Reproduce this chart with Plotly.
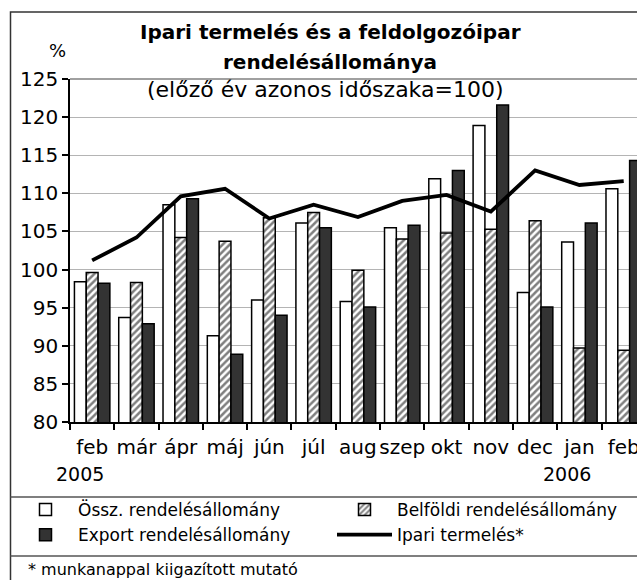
import plotly.graph_objects as go

months = ["feb", "már", "ápr", "máj", "jún", "júl", "aug", "szep", "okt", "nov", "dec", "jan", "feb"]
years = ["2005", "", "", "", "", "", "", "", "", "", "", "2006", ""]
ossz = [98.4, 93.7, 108.5, 91.3, 96.0, 106.1, 95.8, 105.5, 111.9, 118.9, 97.0, 103.6, 110.6]
belfoldi = [99.6, 98.3, 104.2, 103.7, 106.8, 107.5, 99.9, 104.0, 104.8, 105.3, 106.4, 89.7, 89.4]
export = [98.2, 92.9, 109.3, 88.9, 94.0, 105.5, 95.1, 105.8, 113.0, 121.6, 95.1, 106.1, 114.3]
ipari = [101.2, 104.2, 109.6, 110.6, 106.7, 108.5, 106.9, 109.0, 109.8, 107.6, 113.0, 111.1, 111.6]

W, H = 637, 580
L, R, T, B = 70, 0, 79, 158
pw, ph = W - L - R, H - T - B

def px(xp):
    return (xp - L) / pw

def py(yp):
    return (H - B - yp) / ph

x = list(range(len(months)))
FONT = "DejaVu Sans"

fig = go.Figure()
fig.add_bar(x=x, y=ossz, name="Össz. rendelésállomány", legend="legend",
            marker=dict(color="white", line=dict(color="black", width=1.5)))
fig.add_bar(x=x, y=belfoldi, name="Belföldi rendelésállomány", legend="legend2",
            marker=dict(color="white", line=dict(color="black", width=1.5),
                        pattern=dict(shape="/", fgcolor="black", bgcolor="white", size=5, solidity=0.5)))
fig.add_bar(x=x, y=export, name="Export rendelésállomány", legend="legend",
            marker=dict(color="#333333", line=dict(color="black", width=1.5)))
fig.add_scatter(x=x, y=ipari, name="Ipari termelés*", mode="lines", legend="legend2",
                line=dict(color="black", width=3.8))

shapes = []
shapes.append(dict(type="rect", xref="paper", yref="paper", x0=px(10.5), x1=px(700), y0=py(700), y1=py(12),
                   line=dict(color="#333333", width=1.5)))
for yy in (497, 556):
    shapes.append(dict(type="line", xref="paper", yref="paper", x0=px(10.5), x1=px(700), y0=py(yy), y1=py(yy),
                       line=dict(color="#555555", width=1.5)))
shapes.append(dict(type="line", xref="paper", yref="paper", x0=0, x1=px(700), y0=1, y1=1,
                   line=dict(color="#808080", width=1.5)))

def ann(text, xp, yp, size, xanchor="center", bold=False):
    return dict(text=f"<b>{text}</b>" if bold else text, x=px(xp), y=py(yp), xref="paper", yref="paper",
                xanchor=xanchor, yanchor="middle", showarrow=False,
                font=dict(family=FONT, size=size, color="black"))

annotations = [
    ann("Ipari termelés és a feldolgozóipar", 330, 32, 20, bold=True),
    ann("rendelésállománya", 330, 62, 20, bold=True),
    ann("(előző év azonos időszaka=100)", 325, 90, 22),
    ann("%", 57, 51, 18),
    ann("* munkanappal kiigazított mutató", 26, 569, 16, xanchor="left"),
]
for i, yr in enumerate(years):
    if yr:
        annotations.append(dict(text=yr, x=i, y=py(474), xref="x", yref="paper", xshift=-12,
                                xanchor="center", yanchor="middle",
                                showarrow=False, font=dict(family=FONT, size=19, color="black")))

leg_common = dict(orientation="v", xanchor="left", yanchor="top", itemwidth=55,
                  font=dict(family=FONT, size=17, color="black"), tracegroupgap=0,
                  bgcolor="rgba(0,0,0,0)")

fig.update_layout(
    width=W, height=H,
    margin=dict(l=L, r=R, t=T, b=B, pad=0, autoexpand=False),
    paper_bgcolor="white", plot_bgcolor="white",
    barmode="group", bargap=0.2, bargroupgap=0,
    showlegend=True,
    legend=dict(x=px(13), y=py(492), **leg_common),
    legend2=dict(x=px(332), y=py(492), **leg_common),
    font=dict(family=FONT, color="black"),
    shapes=shapes, annotations=annotations,
    xaxis=dict(range=[-0.5, 12.3], tickvals=x, ticktext=months, ticks="", showgrid=False,
               showline=True, linecolor="black", linewidth=1.5, zeroline=False,
               tickfont=dict(family=FONT, size=20, color="black"), ticklabelstandoff=6,
               ticklabeloverflow="allow",
               minor=dict(tickvals=[i - 0.5 for i in range(len(months) + 1)], ticks="outside",
                          ticklen=6, tickcolor="black", tickwidth=1.5, showgrid=False)),
    yaxis=dict(range=[80, 125], dtick=5, ticks="outside", ticklen=6, tickcolor="black", tickwidth=1.5,
               showline=True, linecolor="black", linewidth=1.5, showgrid=True, gridcolor="#b4b4b4",
               gridwidth=1.2, zeroline=False, tickfont=dict(family=FONT, size=20, color="black")),
)

fig.write_html("out.html", config={"displayModeBar": False},
               post_script="document.body.style.margin='0';")
